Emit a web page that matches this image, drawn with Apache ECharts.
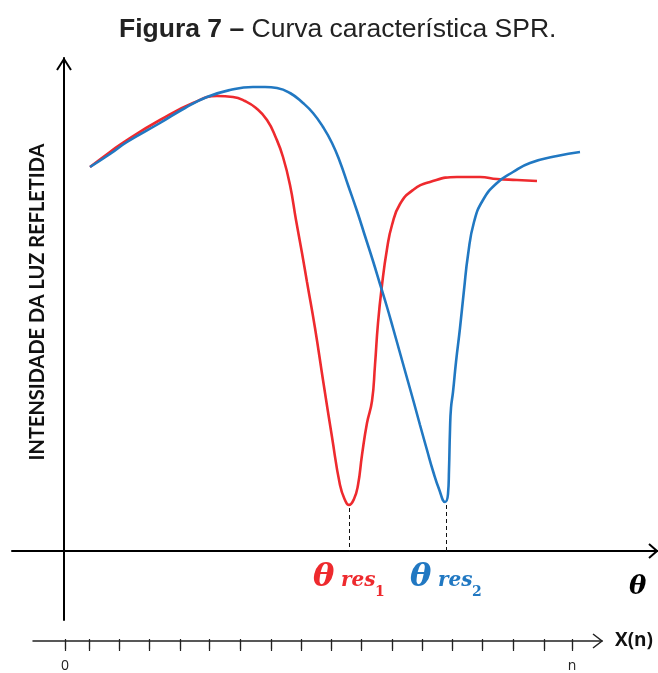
<!DOCTYPE html>
<html>
<head>
<meta charset="utf-8">
<script src="https://cdn.jsdelivr.net/npm/echarts@6/dist/echarts.min.js"></script>
<style>
html,body{margin:0;padding:0;background:#fff;}
#c{width:658px;height:673px;}
</style>
</head>
<body>
<div id="c"></div>
<script>
// ---- data (schematic units: angle θ and reflected intensity) ----
const redTheta = [26,46,63,96,129,153,169,181,192,203,212,219,226,232,238,243,251,259,268,276,281,285,290,294,298,303,308,311,314,318,323,328,336,349,366,393,416,433,453,473];
const redIntensity = [384,399,411,431,448,455,454,450,443,431,413,394,366,331,298,269,223,171,114,66,51,46,52,66,96,128,150,186,228,266,302,326,347,361,369,374,374,372,371,370];
const blueTheta = [26,46,63,96,121,143,166,189,201,213,226,239,249,259,268,276,284,293,301,309,316,323,329,336,343,350,356,363,369,375,381,384,385,386,387,389,392,396,400,404,410,419,433,449,466,493,516];
const blueIntensity = [384,397,409,428,443,454,461,464,464,463,458,448,438,424,408,389,366,340,315,290,267,244,223,198,173,148,126,101,80,62,49,57,81,121,143,159,189,223,261,296,329,351,368,379,388,395,399];
const resTheta = [285, 382];        // θres1, θres2
const resMinIntensity = [46, 49];   // intensity at the dips
const resSub = ['1', '2'];
const xnTicks = [0,24,54,84,115,144,175,206,236,266,296,327,357,387,417,448,479,507];
const xnLabels = {0: '0', 507: 'n'};
const titleBold = 'Figura 7 –';
const titleRegular = 'Curva característica SPR.';
const yTitle = 'INTENSIDADE DA LUZ REFLETIDA';
const xnName = 'X(n)';

const RED = '#EE2A2E', BLUE = '#2178C2';
const zip = (a, b) => a.map((v, i) => [v, b[i]]);

const chart = echarts.init(document.getElementById('c'), null, {renderer: 'canvas'});

const option = {
  animation: false,
  backgroundColor: '#fff',
  title: {
    text: '{b|' + titleBold + '}{r| ' + titleRegular + '}',
    left: 114, top: 11,
    textStyle: {
      rich: {
        b: {fontFamily: 'Liberation Sans', fontWeight: 'bold', fontSize: 26.5, color: '#222'},
        r: {fontFamily: 'Liberation Sans', fontWeight: 'normal', fontSize: 26.5, color: '#222'}
      }
    }
  },
  grid: [
    {left: 12, right: 0, top: 58, bottom: 53},
    {left: 33, right: 56, top: 639, height: 16}
  ],
  xAxis: [
    {type: 'value', gridIndex: 0, min: -52, max: 594,
     axisLine: {show: true, onZero: true, lineStyle: {color: '#000', width: 2}},
     axisTick: {show: false}, axisLabel: {show: false}, splitLine: {show: false}},
    {type: 'value', gridIndex: 1, min: -32, max: 537,
     axisLine: {show: true, onZero: true, lineStyle: {color: '#222', width: 1.5}},
     axisTick: {show: true, inside: false, length: 10, customValues: xnTicks, lineStyle: {color: '#222', width: 1.2}},
     axisLabel: {show: true, customValues: [0, 507], formatter: v => xnLabels[v] || '',
                 margin: 16, fontFamily: 'Open Sans', fontSize: 14, color: '#222'},
     splitLine: {show: false},
     name: xnName, nameLocation: 'end', nameGap: 13,
     nameTextStyle: {fontFamily: 'Open Sans', fontWeight: 'bold', fontSize: 19, color: '#111', verticalAlign: 'middle'}},
    {type: 'value', gridIndex: 1, min: -32, max: 537,
     axisLine: {show: false, onZero: true},
     axisTick: {show: true, inside: true, length: 10, customValues: xnTicks, lineStyle: {color: '#222', width: 1.2}},
     axisLabel: {show: false}, splitLine: {show: false}}
  ],
  yAxis: [
    {type: 'value', gridIndex: 0, min: -69, max: 493,
     axisLine: {show: true, onZero: true, lineStyle: {color: '#000', width: 2}},
     axisTick: {show: false}, axisLabel: {show: false}, splitLine: {show: false}},
    {type: 'value', gridIndex: 1, min: -1, max: 1, show: false}
  ],
  series: [
    {type: 'line', name: 'θres1', xAxisIndex: 0, yAxisIndex: 0,
     data: zip(redTheta, redIntensity), smooth: 0.5, showSymbol: false,
     lineStyle: {color: RED, width: 2.6},
     markLine: {silent: true, symbol: 'none', label: {show: false},
       lineStyle: {color: '#111', type: [4, 3], width: 1},
       data: [[{coord: [resTheta[0], resMinIntensity[0] - 3]}, {coord: [resTheta[0], 0]}]]}},
    {type: 'line', name: 'θres2', xAxisIndex: 0, yAxisIndex: 0,
     data: zip(blueTheta, blueIntensity), smooth: 0.5, showSymbol: false,
     lineStyle: {color: BLUE, width: 2.6},
     markLine: {silent: true, symbol: 'none', label: {show: false},
       lineStyle: {color: '#111', type: [4, 3], width: 1},
       data: [[{coord: [resTheta[1], resMinIntensity[1] - 3]}, {coord: [resTheta[1], 0]}]]}}
  ]
};
chart.setOption(option);

// ---- overlay: arrowheads and texts positioned from axis coordinates ----
const P = (x, y) => chart.convertToPixel({xAxisIndex: 0, yAxisIndex: 0}, [x, y]);
const P2 = (x, y) => chart.convertToPixel({xAxisIndex: 1, yAxisIndex: 1}, [x, y]);
const g = [];
const yTop = P(0, 493), xEnd = P(594, 0), bEnd = P2(537, 0);
g.push({type: 'polyline', shape: {points: [[yTop[0] - 7, yTop[1] + 12], [yTop[0], yTop[1] + 1], [yTop[0] + 7, yTop[1] + 12]]},
        style: {stroke: '#000', lineWidth: 2, fill: null}});
g.push({type: 'polyline', shape: {points: [[xEnd[0] - 9, xEnd[1] - 7], [xEnd[0] - 1, xEnd[1]], [xEnd[0] - 9, xEnd[1] + 7]]},
        style: {stroke: '#000', lineWidth: 2, fill: null}});
g.push({type: 'polyline', shape: {points: [[bEnd[0] - 9, bEnd[1] - 7], [bEnd[0], bEnd[1]], [bEnd[0] - 9, bEnd[1] + 7]]},
        style: {stroke: '#222', lineWidth: 1.5, fill: null}});

// y-axis title
const yMid = P(0, 250);
g.push({type: 'text', x: 38, y: yMid[1] + 1, rotation: Math.PI / 2,
        style: {text: yTitle, fontFamily: 'Lato', fontWeight: 'bold', fontSize: 20, fill: '#111',
                align: 'center', verticalAlign: 'middle'}});

// resonance labels
const colors = [RED, BLUE];
resTheta.forEach((t, i) => {
  const p = P(t, 0);
  const x0 = p[0], y0 = p[1];
  const f = 'italic bold ';
  g.push({type: 'text', x: x0 - 36, y: y0 + 27,
          style: {text: 'θ', font: f + '32px "DejaVu Serif"', fill: colors[i], align: 'left', verticalAlign: 'middle'}});
  g.push({type: 'text', x: x0 - 8, y: y0 + 30,
          style: {text: 'res', font: f + '20px "DejaVu Serif"', fill: colors[i], align: 'left', verticalAlign: 'middle'}});
  g.push({type: 'text', x: x0 + 26, y: y0 + 41,
          style: {text: resSub[i], font: 'bold 14px "DejaVu Serif"', fill: colors[i], align: 'left', verticalAlign: 'middle'}});
});
// θ axis label
g.push({type: 'text', x: xEnd[0] - 29, y: xEnd[1] + 36,
        style: {text: 'θ', font: 'italic bold 26px "DejaVu Serif"', fill: '#000', align: 'left', verticalAlign: 'middle'}});

chart.setOption({graphic: g});
</script>
</body>
</html>
